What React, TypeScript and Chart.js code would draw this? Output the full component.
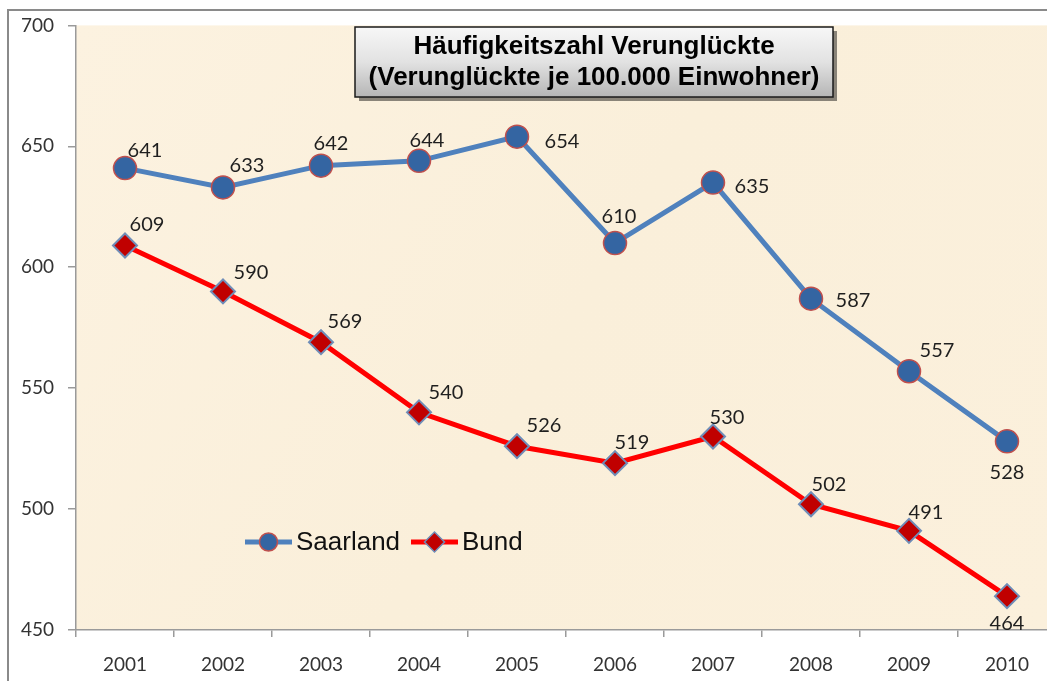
import React, { useEffect, useRef } from "react";
import { Chart, registerables } from "chart.js";

Chart.register(...registerables);

const years = ["2001", "2002", "2003", "2004", "2005", "2006", "2007", "2008", "2009", "2010"];
const saarland = [641, 633, 642, 644, 654, 610, 635, 587, 557, 528];
const bund = [609, 590, 569, 540, 526, 519, 530, 502, 491, 464];
const yTicks = [450, 500, 550, 600, 650, 700];
const titleLines = ["Häufigkeitszahl Verunglückte", "(Verunglückte je 100.000 Einwohner)"];
const seriesNames = ["Saarland", "Bund"];

// label placement offsets (dx, dy) relative to each point
const saarlandLabelOffsets = [[20, -18], [24, -22], [10, -22], [8, -20], [45, 5], [4, -27], [39, 4], [42, 2], [28, -21], [0, 31]];
const bundLabelOffsets = [[22, -21], [28, -19], [24, -21], [27, -20], [27, -21], [17, -21], [14, -19], [18, -20], [17, -18], [0, 27]];

const LABEL_FONT = "20px Lato, 'Open Sans', sans-serif";

const bgPlugin = {
  id: "bgPlugin",
  beforeDraw(chart: any) {
    const { ctx, chartArea: a } = chart;
    ctx.save();
    const g = ctx.createLinearGradient(a.left, a.top, a.right, a.bottom);
    g.addColorStop(0, "#FCF2E0");
    g.addColorStop(0.5, "#FAEFDA");
    g.addColorStop(1, "#FBF0DC");
    ctx.fillStyle = g;
    ctx.fillRect(a.left, a.top, a.right - a.left, a.bottom - a.top);
    ctx.restore();
  },
};

const overlayPlugin = {
  id: "overlayPlugin",
  afterDraw(chart: any) {
    const { ctx } = chart;
    ctx.save();
    // data labels
    ctx.font = LABEL_FONT;
    ctx.fillStyle = "#1f1f1f";
    ctx.textAlign = "center";
    ctx.textBaseline = "middle";
    const offs = [saarlandLabelOffsets, bundLabelOffsets];
    chart.data.datasets.forEach((ds: any, di: number) => {
      const meta = chart.getDatasetMeta(di);
      meta.data.forEach((pt: any, i: number) => {
        const [dx, dy] = offs[di][i];
        ctx.fillText(String(ds.data[i]), pt.x + dx, pt.y + dy);
      });
    });

    // title box
    const bx = 355, by = 27, bw = 478, bh = 70;
    ctx.fillStyle = "rgba(0,0,0,0.45)";
    ctx.fillRect(bx + 4, by + 4, bw, bh);
    const g = ctx.createLinearGradient(0, by, 0, by + bh);
    g.addColorStop(0, "#F7F7F7");
    g.addColorStop(0.5, "#E2E2E2");
    g.addColorStop(1, "#B5B5B5");
    ctx.fillStyle = g;
    ctx.fillRect(bx, by, bw, bh);
    ctx.strokeStyle = "#1a1a1a";
    ctx.lineWidth = 1.5;
    ctx.strokeRect(bx, by, bw, bh);
    ctx.fillStyle = "#000";
    ctx.font = "bold 26px 'Liberation Sans', Arial, sans-serif";
    ctx.fillText(titleLines[0], bx + bw / 2, by + 20);
    ctx.fillText(titleLines[1], bx + bw / 2, by + 51);

    // legend
    const ly = 542;
    const items = [
      { x: 245, ds: chart.data.datasets[0] },
      { x: 411, ds: chart.data.datasets[1] },
    ];
    ctx.textAlign = "left";
    ctx.font = "26px 'Liberation Sans', Arial, sans-serif";
    items.forEach((it, idx) => {
      ctx.strokeStyle = it.ds.borderColor;
      ctx.lineWidth = 5;
      ctx.beginPath();
      ctx.moveTo(it.x, ly);
      ctx.lineTo(it.x + 47, ly);
      ctx.stroke();
      const cx = it.x + 23.5;
      ctx.fillStyle = it.ds.pointBackgroundColor;
      ctx.strokeStyle = it.ds.pointBorderColor;
      ctx.lineWidth = 1.5;
      ctx.beginPath();
      if (idx === 0) {
        ctx.arc(cx, ly, 9, 0, Math.PI * 2);
      } else {
        ctx.moveTo(cx - 10, ly);
        ctx.lineTo(cx, ly - 10);
        ctx.lineTo(cx + 10, ly);
        ctx.lineTo(cx, ly + 10);
        ctx.closePath();
      }
      ctx.fill();
      ctx.stroke();
      ctx.fillStyle = "#111";
      ctx.fillText(seriesNames[idx], it.x + 51, ly + 1);
    });
    ctx.restore();
  },
};

export default function App() {
  const ref = useRef<HTMLCanvasElement>(null);
  useEffect(() => {
    if (!ref.current) return;
    const chart = new Chart(ref.current, {
      type: "line",
      data: {
        labels: years,
        datasets: [
          {
            label: seriesNames[0],
            data: saarland,
            borderColor: "#4F81BD",
            borderWidth: 5,
            pointStyle: "circle",
            pointRadius: 11.5,
            pointBackgroundColor: "#3465A2",
            pointBorderColor: "#C0504D",
            pointBorderWidth: 1.5,
            tension: 0,
          },
          {
            label: seriesNames[1],
            data: bund,
            borderColor: "#FF0000",
            borderWidth: 5,
            pointStyle: "rectRot",
            pointRadius: 12,
            pointBackgroundColor: "#C00000",
            pointBorderColor: "#6F8DB8",
            pointBorderWidth: 2,
            tension: 0,
          },
        ],
      },
      options: {
        animation: false,
        responsive: false,
        maintainAspectRatio: false,
        layout: { padding: { left: 0, top: 25, right: 19, bottom: 0 } },
        plugins: { legend: { display: false }, tooltip: { enabled: false }, title: { display: false } },
        scales: {
          x: {
            offset: true,
            grid: { display: true, drawOnChartArea: false, offset: true, tickLength: 7, color: "#9A9A9A", lineWidth: 1.5 },
            border: { display: true, color: "#9A9A9A", width: 1.5 },
            ticks: { color: "#333", font: { family: "Lato, 'Open Sans', sans-serif", size: 19 }, padding: 16 },
            afterFit: (s: any) => { s.height = 51; },
          },
          y: {
            min: 450,
            max: 700,
            afterBuildTicks: (s: any) => { s.ticks = yTicks.map((v) => ({ value: v })); },
            grid: { display: true, drawOnChartArea: false, tickLength: 8, color: "#9A9A9A", lineWidth: 1.5 },
            border: { display: true, color: "#9A9A9A", width: 1.5 },
            ticks: { color: "#333", font: { family: "Lato, 'Open Sans', sans-serif", size: 19 }, padding: 14 },
            afterFit: (s: any) => { s.width = 76; },
          },
        },
      },
      plugins: [bgPlugin, overlayPlugin],
    });
    return () => chart.destroy();
  }, []);
  return (
    <div style={{ position: "fixed", left: 0, top: 0, width: 1047, height: 681, overflow: "hidden", background: "#fff" }}>
      <canvas ref={ref} width={1075} height={681} style={{ position: "absolute", left: 0, top: 0 }} />
      <div style={{ position: "absolute", left: 7, top: 9, width: 2000, height: 2000, borderLeft: "2px solid #8a8a8a", borderTop: "2px solid #8a8a8a", pointerEvents: "none" }} />
    </div>
  );
}
